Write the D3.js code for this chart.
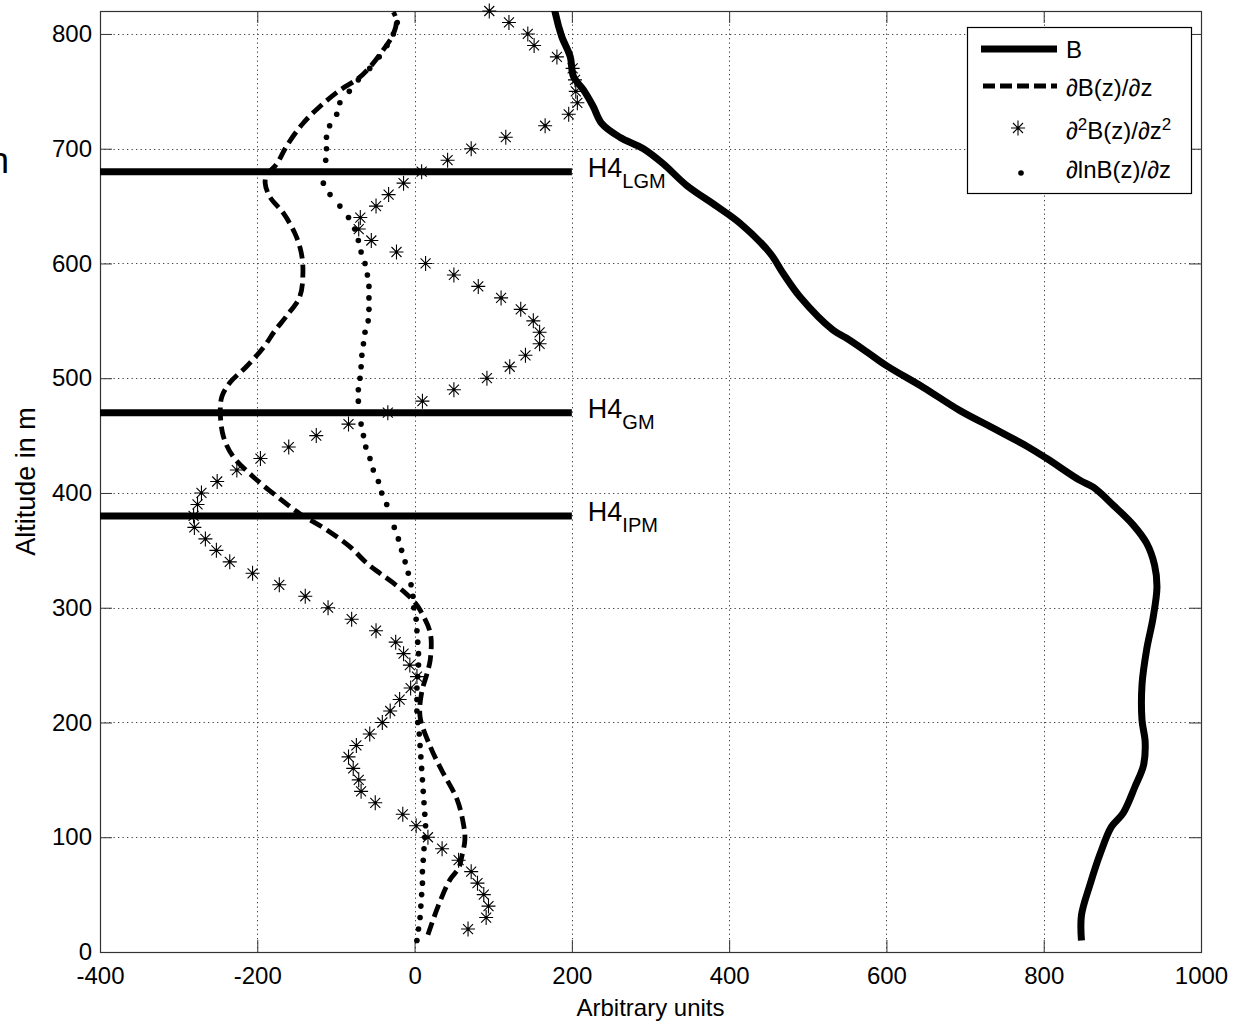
<!DOCTYPE html>
<html>
<head>
<meta charset="utf-8">
<script src="https://cdn.jsdelivr.net/npm/d3@7"></script>
<style>
  body { margin: 0; background: #fff; }
  text { font-family: "Liberation Sans", Arial, Helvetica, sans-serif; fill: #000; }
</style>
</head>
<body>
<div id="chart"></div>
<script>
// Tick values
var xTicks = [-400, -200, 0, 200, 400, 600, 800, 1000];
var yTicks = [0, 100, 200, 300, 400, 500, 600, 700, 800];

// B (solid thick line)
var altB = [10, 32, 59, 86, 109, 121, 144, 163, 183, 202, 233, 264, 291, 318, 337, 356, 372, 389, 405, 411,
  430, 441, 455, 472, 492, 511, 523, 535, 542, 571, 591, 609, 635, 650, 668, 687, 700, 710, 722, 737,
  751, 763, 780, 798, 818, 822];
var valB = [848, 848, 859, 872, 886, 901, 916, 927, 929, 925, 925, 931, 939, 944, 941, 931, 914, 889, 863, 846,
  804, 778, 740, 693, 647, 600, 575, 549, 532, 490, 469, 452, 414, 384, 346, 316, 291, 261, 238, 227,
  215, 202, 198, 187, 179, 178];

// dB/dz (dashed line)
var altDB = [15, 40, 63, 73, 83, 98, 112, 133, 159, 179, 205, 226, 243, 255, 278, 298, 305, 313, 322, 330,
  339, 353, 368, 382, 397, 414, 432, 449, 470, 484, 496, 510, 527, 541, 554, 571, 591, 609, 626, 644,
  658, 670, 677, 687, 702, 722, 737, 751, 761, 771, 786, 800, 812, 819];
var valDB = [17, 30, 45, 56, 60, 64, 62, 54, 34, 20, 7, 9, 16, 20, 20, 7, 0, -12, -28, -44,
  -61, -82, -112, -146, -175, -205, -231, -243, -247, -245, -235, -214, -192, -178, -163, -146, -142, -144, -152, -167,
  -184, -190, -188, -175, -163, -142, -120, -95, -72, -57, -40, -27, -23, -27];

// d2B/dz2 (asterisks)
var alt2 = [20, 30, 40, 50, 60, 70, 80, 90, 100, 110, 120, 130, 140, 150, 160, 170, 180, 190, 200, 210,
  220, 230, 240, 250, 260, 270, 280, 290, 300, 310, 320, 330, 340, 350, 360, 370, 380, 390, 400, 410,
  420, 430, 440, 450, 460, 470, 480, 490, 500, 510, 520, 530, 540, 550, 560, 570, 580, 590, 600, 610,
  620, 630, 640, 650, 660, 670, 680, 690, 700, 710, 720, 730, 740, 750, 760, 770, 780, 790, 800, 810, 820];
var val2 = [68, 91, 94, 88, 80, 72, 56, 35, 17, 2, -15, -50, -68, -71, -78, -84, -74, -57, -41, -31,
  -19, -5, 3, -6, -14, -24, -49, -80, -110, -139, -172, -206, -235, -252, -266, -280, -281, -276, -271, -251,
  -226, -196, -160, -125, -84, -34, 10, 50, 92, 121, 141, 159, 159, 151, 135, 110, 81, 50, 14, -23,
  -55, -71, -69, -49, -33, -14, 9, 42, 72, 116, 166, 196, 207, 205, 204, 201, 181, 152, 144, 120, 95];

// dlnB/dz (dots)
var altL = [10, 20, 30, 40, 50, 60, 70, 80, 90, 100, 110, 120, 130, 140, 150, 160, 170, 180, 190, 200,
  210, 220, 230, 240, 250, 260, 270, 280, 290, 300, 310, 320, 330, 340, 350, 360, 370, 380, 390, 400,
  410, 420, 430, 440, 450, 460, 470, 480, 490, 500, 510, 520, 530, 540, 550, 560, 570, 580, 590, 600,
  610, 620, 630, 640, 650, 660, 670, 680, 690, 700, 710, 720, 730, 740, 750, 760, 770, 780, 790, 800, 810];
var valL = [3, 5, 7, 8, 9, 10, 10, 11, 12, 13, 14, 13, 12, 11, 10, 9, 8, 7, 6, 4,
  3, 3, 3, 4, 5, 5, 4, 3, 2, -1, -2, -4.5, -8, -12, -16.5, -20.6, -25.8, -30, -35.4, -41.8,
  -46, -52.5, -56.7, -62, -65, -68, -70, -71.5, -71.5, -69.4, -68, -67, -65, -63, -59, -58, -58, -58, -60, -63,
  -68, -71.5, -76, -84, -95, -107.5, -116, -119, -113, -112, -112, -108, -99, -95, -83, -71.5, -57, -45, -35, -27, -22];

// Heinrich event levels
var hLevels = [680, 470, 380];
var hNames = ["LGM", "GM", "IPM"];

(function() {
var W = 1243, H = 1024;
var pL = 100, pR = 1201, pT = 11, pB = 952;

var x = d3.scaleLinear().domain([-400, 1000]).range([pL, pR]);
var y = d3.scaleLinear().domain([0, 820]).range([pB, pT]);
var fmt = function(d) { return String(d); };

var svg = d3.select("#chart").append("svg")
  .attr("width", W).attr("height", H);

// grid
var grid = svg.append("g").attr("stroke", "#444").attr("stroke-width", 1).attr("stroke-dasharray", "1.3,3.2");
grid.selectAll(".gx").data(xTicks.slice(1, -1)).enter().append("line")
  .attr("x1", function(d) { return Math.round(x(d)) + 0.5; })
  .attr("x2", function(d) { return Math.round(x(d)) + 0.5; })
  .attr("y1", pT).attr("y2", pB);
grid.selectAll(".gy").data(yTicks.slice(1)).enter().append("line")
  .attr("y1", function(d) { return Math.round(y(d)) + 0.5; })
  .attr("y2", function(d) { return Math.round(y(d)) + 0.5; })
  .attr("x1", pL).attr("x2", pR);

// axes (MATLAB style ticks inside)
function styleAxis(g) {
  g.select(".domain").remove();
  g.selectAll(".tick line").attr("stroke", "#333");
  g.selectAll(".tick text").attr("font-size", "24px").attr("fill", "#000")
    .style("font-family", "'Liberation Sans', Arial, sans-serif");
}
svg.append("g").attr("transform", "translate(0," + pB + ")")
  .call(d3.axisBottom(x).tickValues(xTicks).tickSizeInner(-12).tickSizeOuter(0).tickPadding(15).tickFormat(fmt))
  .call(styleAxis);
svg.append("g").attr("transform", "translate(0," + pT + ")")
  .call(d3.axisTop(x).tickValues(xTicks).tickSizeInner(-12).tickSizeOuter(0).tickFormat(""))
  .call(styleAxis);
svg.append("g").attr("transform", "translate(" + pL + ",0)")
  .call(d3.axisLeft(y).tickValues(yTicks).tickSizeInner(-12).tickSizeOuter(0).tickPadding(8).tickFormat(fmt))
  .call(styleAxis);
svg.append("g").attr("transform", "translate(" + pR + ",0)")
  .call(d3.axisRight(y).tickValues(yTicks).tickSizeInner(-12).tickSizeOuter(0).tickFormat(""))
  .call(styleAxis);

svg.append("rect")
  .attr("x", pL + 0.5).attr("y", pT + 0.5)
  .attr("width", pR - pL).attr("height", pB - pT)
  .attr("fill", "none").attr("stroke", "#333").attr("stroke-width", 1.2);

svg.append("clipPath").attr("id", "clip").append("rect")
  .attr("x", pL).attr("y", pT).attr("width", pR - pL).attr("height", pB - pT);

var plot = svg.append("g");

var lineGen = d3.line()
  .x(function(d) { return x(d[1]); })
  .y(function(d) { return y(d[0]); })
  .curve(d3.curveCatmullRom.alpha(0.5));

// B
plot.append("path")
  .datum(d3.zip(altB, valB))
  .attr("clip-path", "url(#clip)")
  .attr("d", lineGen)
  .attr("fill", "none").attr("stroke", "#000").attr("stroke-width", 7)
  .attr("stroke-linejoin", "round");

// dB/dz
plot.append("path")
  .datum(d3.zip(altDB, valDB))
  .attr("clip-path", "url(#clip)")
  .attr("d", lineGen)
  .attr("fill", "none").attr("stroke", "#000").attr("stroke-width", 4.8)
  .attr("stroke-dasharray", "13,6");

// asterisk marker
var starPath = "M-7,0H7M0,-7.5V7.5M-5,-5L5,5M-5,5L5,-5";
var stars = plot.selectAll(".star").data(d3.zip(alt2, val2)).enter().append("g")
  .attr("transform", function(d) { return "translate(" + x(d[1]) + "," + y(d[0]) + ")"; });
stars.append("path").attr("d", starPath).attr("stroke", "#000").attr("stroke-width", 1.1).attr("fill", "none");
stars.append("circle").attr("r", 1.5).attr("fill", "#000");

// dots
plot.selectAll(".dot").data(d3.zip(altL, valL)).enter().append("circle")
  .attr("cx", function(d) { return x(d[1]); })
  .attr("cy", function(d) { return y(d[0]); })
  .attr("r", 2.8).attr("fill", "#000");

// horizontal H4 lines
plot.selectAll(".hl").data(hLevels).enter().append("line")
  .attr("x1", x(-400)).attr("x2", x(200))
  .attr("y1", function(d) { return y(d); }).attr("y2", function(d) { return y(d); })
  .attr("stroke", "#000").attr("stroke-width", 7);

hLevels.forEach(function(lv, i) {
  var t = svg.append("text")
    .attr("x", x(200) + 16).attr("y", y(lv) + 5)
    .attr("font-size", "27px");
  t.append("tspan").text("H4");
  t.append("tspan").attr("font-size", "20px").attr("dy", 11).text(hNames[i]);
});

// axis labels
svg.append("text")
  .attr("x", (pL + pR) / 2).attr("y", 1016)
  .attr("text-anchor", "middle").attr("font-size", "24px")
  .text("Arbitrary units");
svg.append("text")
  .attr("transform", "translate(35," + ((pT + pB) / 2) + ") rotate(-90)")
  .attr("text-anchor", "middle").attr("font-size", "27px")
  .text("Altitude in m");

// stray glyph fragment at the left edge
svg.append("text").attr("x", -11).attr("y", 173).attr("font-size", "36px").text("n");

// legend
var lg = svg.append("g");
lg.append("rect").attr("x", 967.5).attr("y", 27.5).attr("width", 224).attr("height", 166)
  .attr("fill", "#fff").attr("stroke", "#000").attr("stroke-width", 1.2);
lg.append("line").attr("x1", 981).attr("x2", 1057).attr("y1", 49).attr("y2", 49)
  .attr("stroke", "#000").attr("stroke-width", 7);
lg.append("line").attr("x1", 983).attr("x2", 1057).attr("y1", 86).attr("y2", 86)
  .attr("stroke", "#000").attr("stroke-width", 4.8).attr("stroke-dasharray", "12,5");
var ls = lg.append("g").attr("transform", "translate(1018,128)");
ls.append("path").attr("d", starPath).attr("stroke", "#000").attr("stroke-width", 1.1).attr("fill", "none");
ls.append("circle").attr("r", 1.5).attr("fill", "#000");
lg.append("circle").attr("cx", 1021).attr("cy", 173).attr("r", 2.8).attr("fill", "#000");

var tx = 1066;
lg.append("text").attr("x", tx).attr("y", 58).attr("font-size", "24px").text("B");
lg.append("text").attr("x", tx).attr("y", 96).attr("font-size", "24px").text("\u2202B(z)/\u2202z");
var t3 = lg.append("text").attr("x", tx).attr("y", 139).attr("font-size", "24px");
t3.append("tspan").text("\u2202");
t3.append("tspan").attr("font-size", "17px").attr("dy", -9).text("2");
t3.append("tspan").attr("dy", 9).text("B(z)/\u2202z");
t3.append("tspan").attr("font-size", "17px").attr("dy", -9).text("2");
lg.append("text").attr("x", tx).attr("y", 178).attr("font-size", "24px").text("\u2202lnB(z)/\u2202z");
})();
</script>
</body>
</html>
